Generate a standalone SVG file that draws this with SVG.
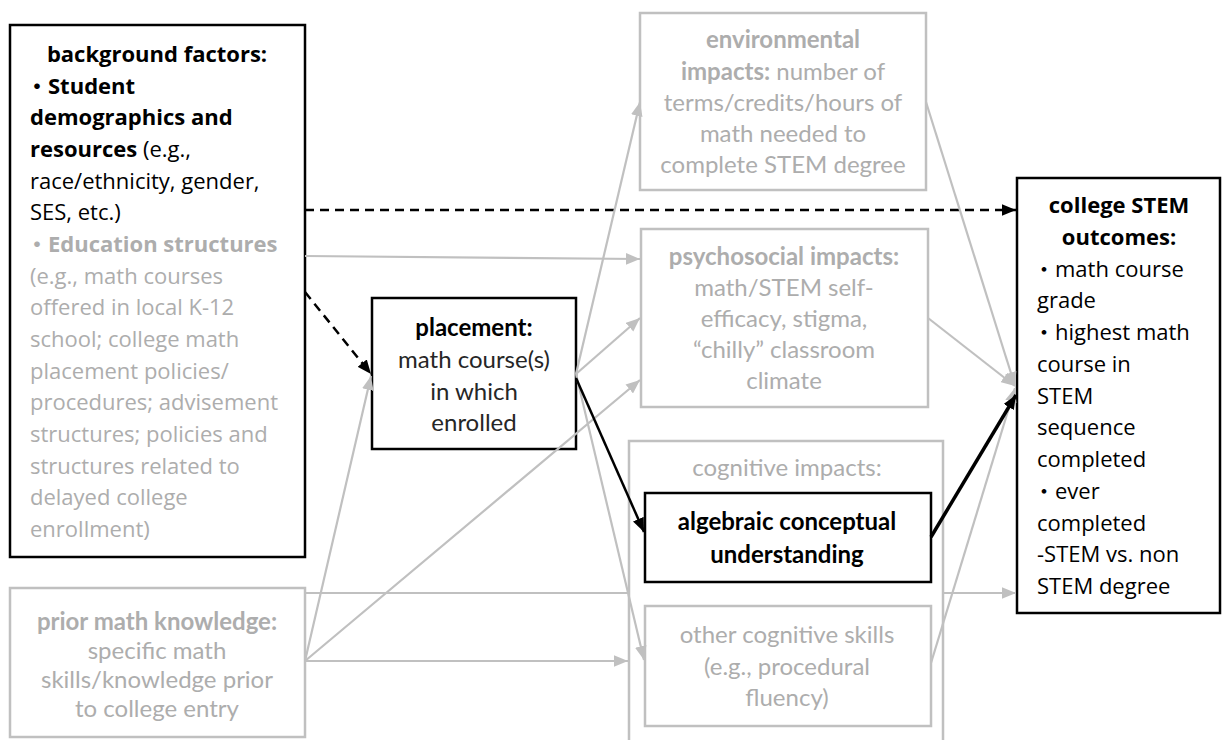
<svg xmlns="http://www.w3.org/2000/svg" width="1222" height="740" viewBox="0 0 1222 740">
<style>
  .a { font-family: "Open Sans", "Noto Sans CJK JP", sans-serif; font-size: 22px; }
  .c { font-family: Lato, "Noto Sans CJK JP", sans-serif; font-size: 24px; }
  .b { font-weight: bold; }
  .k { fill: #000; }
  .d { fill: #262626; }
  .g { fill: #ADADAD; }
  .m { text-anchor: middle; }
  .bx { fill: none; stroke: #000; stroke-width: 2.5; }
  .gx { fill: none; stroke: #C0C0C0; stroke-width: 2.5; }
  .gl { fill: none; stroke: #C0C0C0; stroke-width: 2.2; marker-end: url(#ag); }
  .bl { fill: none; stroke: #000; stroke-width: 2.5; marker-end: url(#ab); }
  .dl { fill: none; stroke: #000; stroke-width: 2.5; stroke-dasharray: 9 6; marker-end: url(#ab); }
</style>
<defs>
  <marker id="ag" viewBox="0 0 12 10" refX="12" refY="5" markerWidth="14" markerHeight="12" markerUnits="userSpaceOnUse" orient="auto">
    <path d="M0,0 L12,5 L0,10 z" fill="#C0C0C0"/>
  </marker>
  <marker id="ab" viewBox="0 0 12 10" refX="12" refY="5" markerWidth="14" markerHeight="12" markerUnits="userSpaceOnUse" orient="auto">
    <path d="M0,0 L12,5 L0,10 z" fill="#000"/>
  </marker>
</defs>
<rect width="1222" height="740" fill="#fff"/>

<g id="background">
  <rect class="bx" x="10" y="25" width="295" height="532"/>
  <text class="a b k m" x="157" y="62">background factors:</text>
  <text class="a b k" x="26" y="94">・Student</text>
  <text class="a b k" x="30" y="125">demographics and</text>
  <text class="a k" x="30" y="157"><tspan class="b">resources</tspan> (e.g.,</text>
  <text class="a k" x="30" y="189">race/ethnicity, gender,</text>
  <text class="a k" x="30" y="220">SES, etc.)</text>
  <text class="a b g" x="26" y="252">・Education structures</text>
  <text class="a g" x="30" y="284">(e.g., math courses</text>
  <text class="a g" x="30" y="315">offered in local K-12</text>
  <text class="a g" x="30" y="347">school; college math</text>
  <text class="a g" x="30" y="379">placement policies/</text>
  <text class="a g" x="30" y="410">procedures; advisement</text>
  <text class="a g" x="30" y="442">structures; policies and</text>
  <text class="a g" x="30" y="474">structures related to</text>
  <text class="a g" x="30" y="505">delayed college</text>
  <text class="a g" x="30" y="537">enrollment)</text>
</g>

<g id="prior">
  <rect class="gx" x="10" y="588" width="295" height="149"/>
  <text class="c b g m" x="157" y="630">prior math knowledge:</text>
  <text class="c g m" x="157" y="659">specific math</text>
  <text class="c g m" x="157" y="688">skills/knowledge prior</text>
  <text class="c g m" x="157" y="717">to college entry</text>
</g>

<g id="placement">
  <rect class="bx" x="372" y="298" width="204" height="151"/>
  <text class="c b k m" x="474" y="336">placement:</text>
  <text class="c d m" x="474" y="368">math course(s)</text>
  <text class="c d m" x="474" y="400">in which</text>
  <text class="c d m" x="474" y="431">enrolled</text>
</g>

<g id="environmental">
  <rect class="gx" x="640" y="13" width="286" height="177"/>
  <text class="c b g m" x="783" y="48">environmental</text>
  <text class="c g m" x="783" y="80"><tspan class="b">impacts:</tspan>  number of</text>
  <text class="c g m" x="783" y="111">terms/credits/hours of</text>
  <text class="c g m" x="783" y="142">math needed to</text>
  <text class="c g m" x="783" y="173">complete STEM degree</text>
</g>

<g id="psychosocial">
  <rect class="gx" x="641" y="229" width="287" height="178"/>
  <text class="c b g m" x="784" y="265">psychosocial impacts:</text>
  <text class="c g m" x="784" y="296">math/STEM self-</text>
  <text class="c g m" x="784" y="327">efficacy, stigma,</text>
  <text class="c g m" x="784" y="358">“chilly” classroom</text>
  <text class="c g m" x="784" y="389">climate</text>
</g>

<g id="cognitive">
  <path d="M629,745 V441 H943 V745" fill="#fff" stroke="#C0C0C0" stroke-width="2.5"/>
  <text class="c g m" x="787" y="476">cognitive impacts:</text>
</g>

<g id="algebraic">
  <rect class="bx" x="645" y="493" width="286" height="89"/>
  <text class="c b k m" x="787" y="530">algebraic conceptual</text>
  <text class="c b k m" x="787" y="563">understanding</text>
</g>

<g id="other-cognitive">
  <rect class="gx" x="645" y="606" width="286" height="120"/>
  <text class="c g m" x="787" y="643">other cognitive skills</text>
  <text class="c g m" x="787" y="675">(e.g., procedural</text>
  <text class="c g m" x="787" y="706">fluency)</text>
</g>

<g id="outcomes">
  <rect class="bx" x="1017" y="178" width="203" height="435"/>
  <text class="a b k m" x="1119" y="213">college STEM</text>
  <text class="a b k m" x="1119" y="245">outcomes:</text>
  <text class="a k" x="1033" y="277">・math course</text>
  <text class="a k" x="1037" y="308">grade</text>
  <text class="a k" x="1033" y="340">・highest math</text>
  <text class="a k" x="1037" y="372">course in</text>
  <text class="a k" x="1037" y="404">STEM</text>
  <text class="a k" x="1037" y="435">sequence</text>
  <text class="a k" x="1037" y="467">completed</text>
  <text class="a k" x="1033" y="499">・ever</text>
  <text class="a k" x="1037" y="531">completed</text>
  <text class="a k" x="1037" y="562">-STEM vs. non</text>
  <text class="a k" x="1037" y="594">STEM degree</text>
</g>

<g id="connectors">
  <path class="dl" d="M305,210 H1016"/>
  <path class="gl" d="M305,256 L640,259"/>
  <path class="dl" d="M305,292 L371,374"/>
  <path class="gl" d="M305,661 L371,376"/>
  <path class="gl" d="M305,661 L640,380"/>
  <path class="gl" d="M305,661 L628,661"/>
  <path class="gl" d="M305,593 H629 M943,593 H1016"/>
  <path class="gl" d="M576,374 L640,102"/>
  <path class="gl" d="M576,374 L640,318"/>
  <path class="gl" d="M576,374 L644,660"/>
  <path class="bl" d="M576,378 L644,532"/>
  <path class="gl" d="M926,102 L1015,386"/>
  <path class="gl" d="M928,318 L1015,386"/>
  <path class="gl" d="M931,663 L1015,388"/>
  <path class="bl" style="stroke-width:3.5" d="M931,537 L1016,395"/>
</g>
</svg>
